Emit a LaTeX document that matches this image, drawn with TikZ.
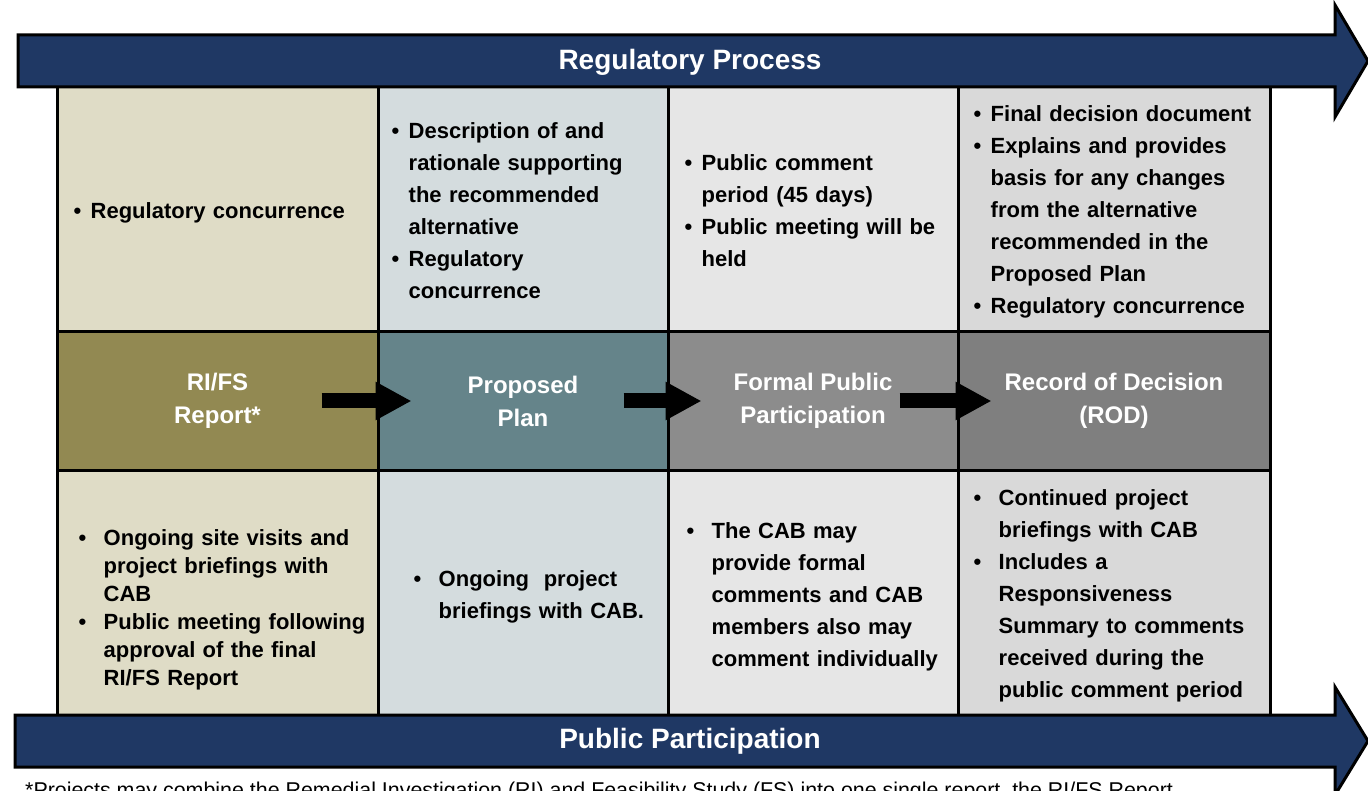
\documentclass[tikz,border=0pt]{standalone}
\usepackage{fontspec}
\setmainfont{Liberation Sans}
\usetikzlibrary{arrows.meta, calc}
\definecolor{navyband}{RGB}{31,56,100}
\definecolor{beigecell}{RGB}{223,220,198}
\definecolor{bluecell}{RGB}{212,220,222}
\definecolor{lightcell}{RGB}{230,230,230}
\definecolor{greycell}{RGB}{217,217,217}
\definecolor{olivestage}{RGB}{146,137,82}
\definecolor{tealstage}{RGB}{101,132,138}
\definecolor{greystage}{RGB}{140,140,140}
\definecolor{darkstage}{RGB}{127,127,127}
\newcommand{\bitem}[2][17pt]{\par\noindent\hangindent=#1\hangafter=1\makebox[#1][l]{\textbullet}{\let\\\newline#2}\par}
\tikzset{
    band/.style={fill=navyband, draw=black, line width=3pt},
    bandlabel/.style={text=white, font=\bfseries\fontsize{28}{30}\selectfont},
    cellbox/.style={draw=black, line width=3pt, inner sep=0pt},
    stagelabel/.style={text=white, align=center, font=\bfseries\fontsize{24}{33}\selectfont},
    notes/.style={anchor=west, inner sep=0pt, text width=#1, align=left, font=\bfseries\fontsize{22}{32}\selectfont},
    notes/.default=330pt,
    flow/.style={line width=15pt, -{Triangle[width=36pt, length=36pt]}},
}

\begin{document}
\begin{tikzpicture}[x=1pt, y=-1pt]
    \useasboundingbox (0,0) rectangle (1368,791);
    % cells: regulatory row, stages, public row
    \foreach \i/\xa/\xb/\ctop/\cmid/\cbot [evaluate={\xc=(\xa+\xb)/2; \cw=\xb-\xa;}] in
        {1/57/378/beigecell/olivestage/beigecell, 2/378/668/bluecell/tealstage/bluecell,
         3/668/958/lightcell/greystage/lightcell, 4/958/1270/greycell/darkstage/greycell} {
        \node[cellbox, fill=\ctop, minimum width=\cw pt, minimum height=245pt] (top\i) at (\xc,209.5) {};
        \node[cellbox, fill=\cmid, minimum width=\cw pt, minimum height=138pt] (mid\i) at (\xc,401) {};
        \node[cellbox, fill=\cbot, minimum width=\cw pt, minimum height=245pt] (bot\i) at (\xc,592.5) {};
    }
    % the two bands
    \draw[band] (18,35) -- (1335,35) -- (1335,5) -- (1368,61) -- (1335,117) -- (1335,87) -- (18,87) -- cycle;
    \node[bandlabel] (regproc) at (690,62) {Regulatory Process};
    \draw[band] (15,715) -- (1335,715) -- (1335,687) -- (1368,741) -- (1335,795) -- (1335,767) -- (15,767) -- cycle;
    \node[bandlabel] (pubpart) at (690,741) {Public Participation};
    % stages
    \node[stagelabel] (stage1) at (mid1) {RI/FS\\Report*};
    \node[stagelabel] (stage2) at (mid2) {Proposed\\Plan};
    \node[stagelabel] (stage3) at (mid3) {Formal Public\\Participation};
    \node[stagelabel] (stage4) at (mid4) {Record of Decision\\(ROD)};
    \foreach \i/\j/\back in {1/2/58, 2/3/46, 3/4/60}
        \draw[flow] ([xshift=-\back pt]mid\i.east) -- ([xshift=35pt]mid\j.west);
    % regulatory notes
    \node[notes] (reg1) at ([xshift=18pt, yshift=5pt]top1.west) {\bitem{Regulatory concurrence}};
    \node[notes] (reg2) at ([xshift=15pt, yshift=7pt]top2.west) {\bitem{Description of and\\rationale supporting\\the recommended\\alternative}\bitem{Regulatory\\concurrence}};
    \node[notes] (reg3) at ([xshift=18pt, yshift=7pt]top3.west) {\bitem{Public comment\\period (45 days)}\bitem{Public meeting will be\\held}};
    \node[notes] (reg4) at ([xshift=17pt, yshift=6pt]top4.west) {\bitem{Final decision document}\bitem{Explains and provides\\basis for any changes\\from the alternative\\recommended in the\\Proposed Plan}\bitem{Regulatory concurrence}};
    % public notes
    \node[notes, font=\bfseries\fontsize{22}{28}\selectfont] (pub1) at ([xshift=23pt, yshift=-11.5pt]bot1.west) {\bitem[25pt]{Ongoing site visits and\\project briefings with\\CAB}\bitem[25pt]{Public meeting following\\approval of the final\\RI/FS Report}};
    \node[notes] (pub2) at ([xshift=37pt, yshift=3.5pt]bot2.west) {\bitem[25pt]{Ongoing\ \ project\\briefings with CAB.}};
    \node[notes] (pub3) at ([xshift=20pt, yshift=3.5pt]bot3.west) {\bitem[25pt]{The CAB may\\provide formal\\comments and CAB\\members also may\\comment individually}};
    \node[notes] (pub4) at ([xshift=17pt, yshift=5pt]bot4.west) {\bitem[25pt]{Continued project\\briefings with CAB}\bitem[25pt]{Includes a\\Responsiveness\\Summary to comments\\received during the\\public comment period}};
    \node[anchor=base west, inner sep=0pt, font=\fontsize{21.4}{24}\selectfont] (footnote) at (25,797) {*Projects may combine the Remedial Investigation (RI) and Feasibility Study (FS) into one single report, the RI/FS Report.};
\end{tikzpicture}
\end{document}
